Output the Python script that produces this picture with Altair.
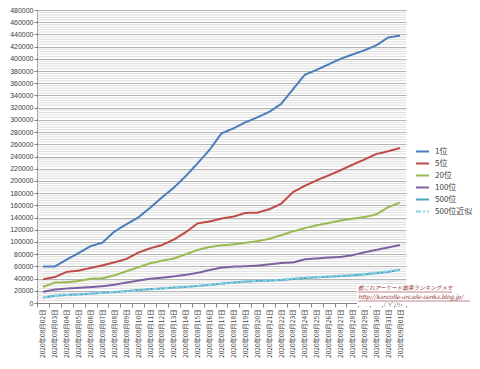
import altair as alt
import pandas as pd

dates = ["2020年08月02日", "2020年08月03日", "2020年08月04日", "2020年08月05日",
         "2020年08月06日", "2020年08月07日", "2020年08月08日", "2020年08月09日",
         "2020年08月10日", "2020年08月11日", "2020年08月12日", "2020年08月13日",
         "2020年08月14日", "2020年08月15日", "2020年08月16日", "2020年08月17日",
         "2020年08月18日", "2020年08月19日", "2020年08月20日", "2020年08月21日",
         "2020年08月22日", "2020年08月23日", "2020年08月24日", "2020年08月25日",
         "2020年08月26日", "2020年08月27日", "2020年08月28日", "2020年08月29日",
         "2020年08月30日", "2020年08月31日", "2020年09月01日"]

rank1 = [60000, 60000, 71000, 82000, 93000, 99000, 117000, 129000, 140000, 156000,
         173000, 189000, 208000, 229000, 251000, 278000, 286000, 296000, 304000, 313000,
         326000, 350000, 374000, 382000, 391000, 400000, 407000, 414000, 422000, 435000, 438000]
rank5 = [38800, 42500, 51000, 53000, 57500, 61500, 66500, 72000, 82500, 89500,
         95000, 104000, 116000, 130500, 133500, 138500, 141500, 147500, 148000, 153500,
         162500, 181500, 192000, 201000, 209000, 217500, 226500, 235000, 244000, 248500, 254000]
rank20 = [26400, 33400, 34000, 36000, 39800, 40400, 45200, 52000, 58500, 65000,
          69200, 73000, 79800, 87000, 91700, 94500, 96000, 98600, 101300, 105000,
          111000, 117300, 122600, 127400, 131100, 135000, 138200, 140800, 145000, 157000, 164500]
rank100 = [18400, 22000, 23700, 24800, 26000, 27500, 30000, 33400, 36600, 39800,
           41400, 43600, 46200, 49400, 54000, 58000, 59600, 60100, 61200, 63300,
           65400, 66500, 71500, 73000, 74500, 75500, 78200, 83000, 87000, 91000, 95000]
rank500 = [8800, 12000, 13100, 14200, 15200, 16800, 17900, 19500, 21100, 22700,
           23700, 25300, 26400, 28000, 29600, 31700, 33500, 35000, 36000, 36600,
           37700, 39300, 40900, 42000, 43000, 44100, 45200, 46800, 48900, 51000, 54200]
approx500 = [9500, 11500, 13000, 14300, 15500, 16800, 18000, 19400, 20800, 22300,
             23700, 25100, 26500, 28000, 29500, 31500, 33700, 35300, 36500, 37300,
             38500, 40200, 41600, 42700, 43800, 45000, 46300, 48000, 50000, 52000, 54500]

series = ["1位", "5位", "20位", "100位", "500位", "500位近似"]
colors = ["#4A7EBB", "#BE4B48", "#98B954", "#7D60A0", "#46AAC5", "#8FD0E8"]
dashes = [[1, 0], [1, 0], [1, 0], [1, 0], [1, 0], [5, 2, 2, 2]]

major_ticks = list(range(0, 480001, 20000))
minor_ticks = [v for v in range(0, 480001, 4000) if v % 20000 != 0]

rows = []
for name, vals in zip(series, [rank1, rank5, rank20, rank100, rank500, approx500]):
    for i, (d, v) in enumerate(zip(dates, vals)):
        rows.append({"date": d, "idx": i, "value": v, "series": name})
df = pd.DataFrame(rows)

FONT = "Noto Sans CJK JP"

legend = alt.Legend(title=None, orient="none", legendX=378, legendY=134,
                    symbolType="stroke", symbolSize=169, symbolStrokeWidth=2,
                    labelFontSize=8, labelFont=FONT, labelColor="#404040",
                    rowPadding=0, padding=0, labelOffset=5)

yscale = alt.Scale(domain=[0, 480000], nice=False)
yaxis = alt.Axis(title=None, values=major_ticks, format="d", grid=True,
                 gridColor="#B4B4B4", domainColor="#868686", tickColor="#868686",
                 tickSize=3, labelPadding=1, labelFontSize=7, labelFont="Liberation Sans",
                 labelColor="#404040")

minor = alt.Chart(pd.DataFrame({"value": minor_ticks})).mark_rule(
    color="#DCDCDC", strokeWidth=1
).encode(y=alt.Y("value:Q", axis=yaxis, scale=yscale))

lines = alt.Chart(df).mark_line(strokeWidth=2).encode(
    x=alt.X("date:O", sort=dates,
            scale=alt.Scale(type="band", domain=dates, paddingInner=0, paddingOuter=0),
            axis=alt.Axis(title=None, labelAngle=-90, tickBand="extent", grid=False,
                          domainColor="#868686", tickColor="#868686", tickSize=4,
                          labelFontSize=6.5, labelFont=FONT, labelColor="#404040",
                          labelPadding=2)),
    y=alt.Y("value:Q", scale=yscale, axis=yaxis),
    color=alt.Color("series:N", sort=series,
                    scale=alt.Scale(domain=series, range=colors), legend=legend),
    strokeDash=alt.StrokeDash("series:N", sort=series,
                              scale=alt.Scale(domain=series, range=dashes), legend=legend),
    order=alt.Order("idx:Q"),
)

one = pd.DataFrame({"k": [0]})
box = alt.Chart(one).mark_rect(fill="white").encode(
    x=alt.value(320), x2=alt.value(435), y=alt.value(274), y2=alt.value(296))
t1 = alt.Chart(one).mark_text(align="left", baseline="middle", font=FONT, fontSize=5.6,
                              fontStyle="italic", color="#943634").encode(
    x=alt.value(321), y=alt.value(278), text=alt.value("艦これアーケード戦果ランキングメモ"))
t2 = alt.Chart(one).mark_text(align="left", baseline="middle", font=FONT, fontSize=6,
                              fontStyle="italic", color="#943634").encode(
    x=alt.value(321), y=alt.value(287), text=alt.value("http://kancolle-arcade-senka.blog.jp/"))
u1 = alt.Chart(one).mark_rule(color="#943634", strokeWidth=0.6).encode(
    x=alt.value(321), x2=alt.value(415), y=alt.value(282))
u2 = alt.Chart(one).mark_rule(color="#943634", strokeWidth=0.6).encode(
    x=alt.value(321), x2=alt.value(433), y=alt.value(291))
t3 = alt.Chart(one).mark_text(align="left", baseline="middle", font=FONT, fontSize=4.5,
                              color="#606060").encode(
    x=alt.value(347), y=alt.value(294.5), text=alt.value("(ﾟ∀ﾟ)ｱﾋｬ"))

chart = alt.layer(minor, lines, box, t1, t2, u1, u2, t3).properties(
    width=369, height=293,
    autosize=alt.AutoSizeParams(type="none"),
    padding={"left": 29, "top": 2, "right": 66, "bottom": 58},
    background="white",
).configure_view(stroke=None)

chart.save("out.html", embed_options={"renderer": "svg", "actions": False})
